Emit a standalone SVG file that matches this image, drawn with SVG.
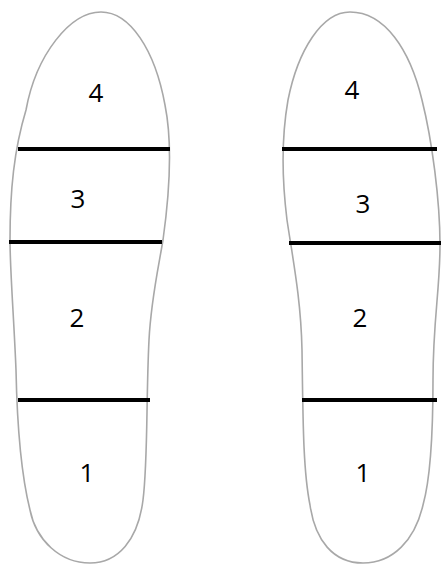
<svg xmlns="http://www.w3.org/2000/svg" width="441" height="565" viewBox="0 0 441 565">
<style>
.outline{fill:#fff;stroke:#a8a8a8;stroke-width:1.6}
.div{stroke:#000;stroke-width:4;stroke-linecap:butt}
.lbl{font-family:"Open Sans","Liberation Sans",sans-serif;font-size:26px;fill:#000;text-anchor:middle}
</style>
<rect width="441" height="565" fill="#fff"/>
<g id="left-sole">
<path class="outline" d="M101,12 C130,12 155,50 165,105 C172,140 170,190 163,240 C158,270 151,300 149,340 C146,400 148,460 143,500 C138,540 118,563 90,563 C60,563 36,540 30,510 C20,470 17,420 16,370 C14,320 10,270 10,240 C10,190 14,150 26,110 C36,55 70,12 101,12 Z"/>
<line class="div" x1="18" y1="149" x2="170" y2="149"/>
<line class="div" x1="9" y1="242" x2="162" y2="242"/>
<line class="div" x1="18" y1="400" x2="150" y2="400"/>
<text class="lbl" x="96" y="102">4</text>
<text class="lbl" x="78" y="208">3</text>
<text class="lbl" x="77" y="327">2</text>
<text class="lbl" x="87" y="482">1</text>
</g>
<g id="right-sole">
<path class="outline" d="M350,12 C385,12 410,50 422,100 C432,140 440,200 440,245 C440,290 433,320 433,380 C433,440 430,480 423,505 C415,540 393,563 363,563 C333,563 315,540 310,505 C303,470 303,420 302,350 C301,300 293,260 287,220 C282,180 281,140 288,100 C298,50 322,12 350,12 Z"/>
<line class="div" x1="282" y1="149" x2="437" y2="149"/>
<line class="div" x1="289" y1="243" x2="441" y2="243"/>
<line class="div" x1="302" y1="400" x2="437" y2="400"/>
<text class="lbl" x="352" y="99">4</text>
<text class="lbl" x="363" y="213">3</text>
<text class="lbl" x="360" y="327">2</text>
<text class="lbl" x="363" y="482">1</text>
</g>
<g id="connectors"/>
</svg>
